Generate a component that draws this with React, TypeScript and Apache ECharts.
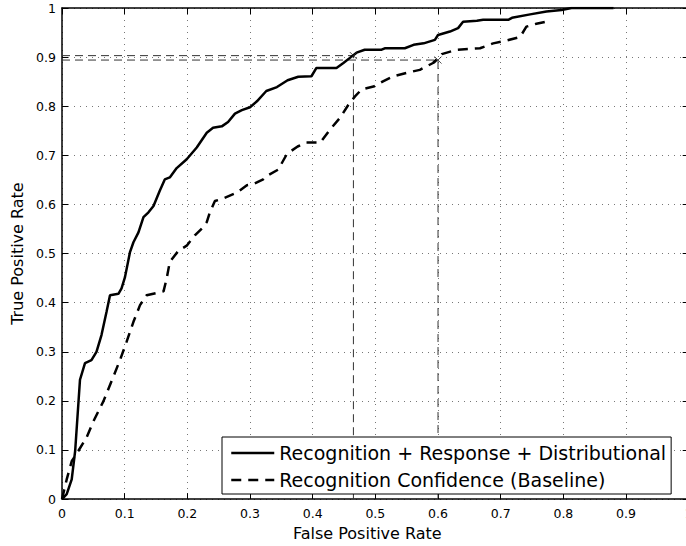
import React, { useEffect, useRef } from "react";
import * as echarts from "echarts";

// Axis ticks
const xTicks = [0, 0.1, 0.2, 0.3, 0.4, 0.5, 0.6, 0.7, 0.8, 0.9, 1];
const yTicks = [0, 0.1, 0.2, 0.3, 0.4, 0.5, 0.6, 0.7, 0.8, 0.9, 1];

const seriesNames = [
  "Recognition + Response + Distributional",
  "Recognition Confidence (Baseline)",
];

// ROC curve: Recognition + Response + Distributional  [FPR, TPR]
const rocCombined: [number, number][] = [
  [0, 0], [0.0075, 0.01], [0.0155, 0.04], [0.021, 0.098], [0.0287, 0.243],
  [0.0367, 0.277], [0.047, 0.283], [0.055, 0.3], [0.063, 0.334], [0.071, 0.381],
  [0.0766, 0.415], [0.09, 0.418], [0.095, 0.429], [0.1005, 0.452], [0.1085, 0.503],
  [0.114, 0.523], [0.122, 0.543], [0.13, 0.574], [0.138, 0.584], [0.146, 0.597],
  [0.156, 0.628], [0.164, 0.651], [0.172, 0.655], [0.183, 0.674], [0.199, 0.692],
  [0.215, 0.716], [0.231, 0.746], [0.241, 0.756], [0.255, 0.759], [0.265, 0.768],
  [0.276, 0.785], [0.287, 0.792], [0.3, 0.798], [0.311, 0.81], [0.326, 0.831],
  [0.343, 0.839], [0.36, 0.853], [0.377, 0.86], [0.398, 0.861], [0.406, 0.878],
  [0.438, 0.878], [0.449, 0.888], [0.462, 0.901], [0.47, 0.909], [0.483, 0.915],
  [0.51, 0.915], [0.515, 0.918], [0.547, 0.918], [0.561, 0.925], [0.577, 0.928],
  [0.595, 0.935], [0.6, 0.945], [0.619, 0.952], [0.632, 0.959], [0.64, 0.972],
  [0.662, 0.974], [0.672, 0.976], [0.712, 0.976], [0.718, 0.98], [0.747, 0.987],
  [0.773, 0.993], [0.797, 0.996], [0.813, 1.0], [0.88, 1.0],
];

// ROC curve: Recognition Confidence (Baseline)  [FPR, TPR]
const rocBaseline: [number, number][] = [
  [0, 0], [0.0075, 0.04], [0.0155, 0.077], [0.026, 0.098], [0.039, 0.125],
  [0.05, 0.158], [0.066, 0.199], [0.079, 0.24], [0.0925, 0.283], [0.103, 0.32],
  [0.114, 0.361], [0.1245, 0.395], [0.135, 0.415], [0.162, 0.423], [0.167, 0.449],
  [0.172, 0.483], [0.186, 0.506], [0.199, 0.516], [0.212, 0.537], [0.2255, 0.554],
  [0.231, 0.564], [0.236, 0.584], [0.244, 0.607], [0.257, 0.612], [0.279, 0.624],
  [0.295, 0.639], [0.305, 0.641], [0.321, 0.651], [0.327, 0.658], [0.345, 0.671],
  [0.359, 0.703], [0.376, 0.718], [0.39, 0.726], [0.412, 0.726], [0.428, 0.753],
  [0.444, 0.777], [0.457, 0.803], [0.4675, 0.82], [0.478, 0.834], [0.497, 0.84],
  [0.513, 0.851], [0.529, 0.861], [0.55, 0.868], [0.571, 0.874], [0.592, 0.888],
  [0.606, 0.906], [0.63, 0.915], [0.667, 0.918], [0.688, 0.928], [0.71, 0.934],
  [0.731, 0.941], [0.741, 0.962], [0.757, 0.968], [0.779, 0.974],
];

// Operating points (FPR, TPR) marked with x and guide lines
const operatingPoints: [number, number][] = [
  [0.465, 0.903],
  [0.6, 0.894],
];

const FONT = "DejaVu Sans";

export default function App() {
  const ref = useRef<HTMLDivElement>(null);

  useEffect(() => {
    if (!ref.current) return;
    const chart = echarts.init(ref.current, undefined, { renderer: "svg" });

    const guideSeries = operatingPoints.map((p) => ({
      type: "line",
      data: [
        [0, p[1]],
        [p[0], p[1]],
        [p[0], 0],
      ],
      symbol: "none",
      silent: true,
      z: 1,
      lineStyle: { color: "#333", width: 1, type: [8, 5] },
    }));

    const option: any = {
      animation: false,
      backgroundColor: "#fff",
      grid: { left: 62, top: 8, width: 626.7, height: 493.5, containLabel: false },
      legend: {
        data: seriesNames,
        orient: "vertical",
        left: 222,
        top: 437,
        itemWidth: 43,
        itemHeight: 14,
        itemGap: 5,
        padding: [5, 5, 3, 8],
        backgroundColor: "#fff",
        borderColor: "#000",
        borderWidth: 1,
        borderRadius: 0,
        selectedMode: false,
        itemStyle: { color: "transparent", borderWidth: 0, opacity: 0 },
        lineStyle: { width: 2.5 },
        textStyle: { fontFamily: FONT, fontSize: 19, color: "#000", lineHeight: 22 },
      },
      xAxis: [
        {
          type: "value",
          min: 0,
          max: 1,
          interval: 0.1,
          position: "bottom",
          name: "False Positive Rate",
          nameLocation: "middle",
          nameGap: 22,
          nameTextStyle: { fontFamily: FONT, fontSize: 16, color: "#000", padding: [0, 16, 0, 0] },
          axisLine: { show: true, onZero: false, lineStyle: { color: "#000", width: 1.5 } },
          axisTick: { show: true, inside: true, length: 6, lineStyle: { color: "#000" } },
          axisLabel: {
            fontFamily: FONT,
            fontSize: 12.5,
            color: "#000",
            margin: 8,
            formatter: (v: number) => String(xTicks[Math.round(v * 10)]),
          },
          splitLine: { show: true, lineStyle: { color: "#777", width: 1, type: [1, 5] } },
        },
        {
          type: "value",
          min: 0,
          max: 1,
          interval: 0.1,
          position: "top",
          axisLine: { show: true, onZero: false, lineStyle: { color: "#000", width: 1.5 } },
          axisTick: { show: true, inside: true, length: 6, lineStyle: { color: "#000" } },
          axisLabel: { show: false },
          splitLine: { show: false },
        },
      ],
      yAxis: [
        {
          type: "value",
          min: 0,
          max: 1,
          interval: 0.1,
          position: "left",
          name: "True Positive Rate",
          nameLocation: "middle",
          nameGap: 30,
          nameTextStyle: { fontFamily: FONT, fontSize: 16, color: "#000" },
          axisLine: { show: true, onZero: false, lineStyle: { color: "#000", width: 1.5 } },
          axisTick: { show: true, inside: true, length: 6, lineStyle: { color: "#000" } },
          axisLabel: {
            fontFamily: FONT,
            fontSize: 12.5,
            color: "#000",
            margin: 6,
            formatter: (v: number) => String(yTicks[Math.round(v * 10)]),
          },
          splitLine: { show: true, lineStyle: { color: "#777", width: 1, type: [1, 5] } },
        },
        {
          type: "value",
          min: 0,
          max: 1,
          interval: 0.1,
          position: "right",
          axisLine: { show: true, onZero: false, lineStyle: { color: "#000", width: 1.5 } },
          axisTick: { show: true, inside: true, length: 6, lineStyle: { color: "#000" } },
          axisLabel: { show: false },
          splitLine: { show: false },
        },
      ],
      series: [
        ...guideSeries,
        {
          name: seriesNames[0],
          type: "line",
          data: rocCombined,
          symbol: "none",
          z: 3,
          lineStyle: { color: "#000", width: 2.5, type: "solid" },
          itemStyle: { color: "#000" },
        },
        {
          name: seriesNames[1],
          type: "line",
          data: rocBaseline,
          symbol: "none",
          z: 3,
          lineStyle: { color: "#000", width: 2.5, type: [10, 7] },
          itemStyle: { color: "#000" },
        },
        {
          type: "scatter",
          data: operatingPoints,
          symbol: "path://M0 0L10 10M10 0L0 10",
          symbolSize: 7,
          silent: true,
          z: 4,
          itemStyle: { color: "transparent", borderColor: "#222", borderWidth: 1 },
        },
      ],
    };

    chart.setOption(option);
    return () => chart.dispose();
  }, []);

  return (
    <div
      style={{
        position: "fixed",
        left: 0,
        top: 0,
        width: 686,
        height: 546,
        overflow: "hidden",
        background: "#fff",
      }}
    >
      <div ref={ref} style={{ width: 720, height: 546 }} />
    </div>
  );
}
